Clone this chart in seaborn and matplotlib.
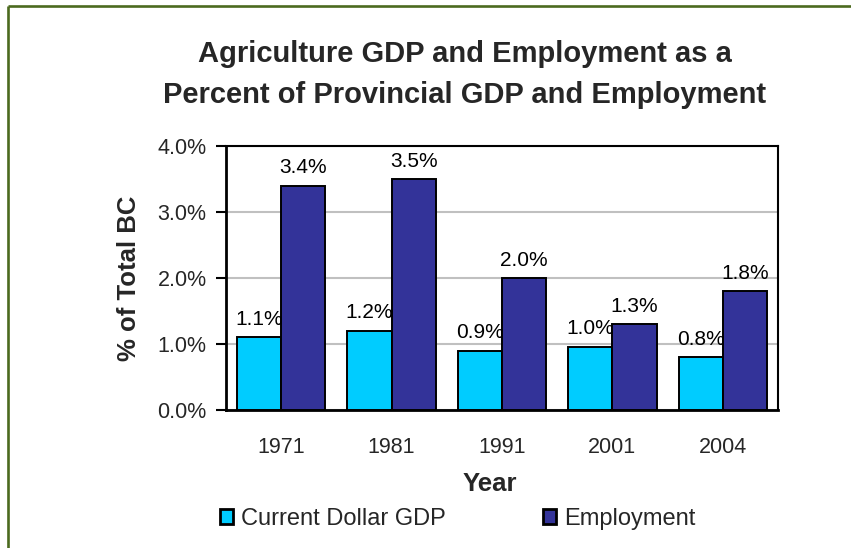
import matplotlib
matplotlib.use("Agg")
import matplotlib.pyplot as plt
from matplotlib.lines import Line2D
import seaborn as sns
import pandas as pd
import numpy as np

# Data (percent of BC total)
years = ["1971", "1981", "1991", "2001", "2004"]
gdp_share = [1.1, 1.2, 0.9, 0.96, 0.8]
employment_share = [3.4, 3.5, 2.0, 1.3, 1.8]
series_names = ["Current Dollar GDP", "Employment"]
y_ticks = [0.0, 1.0, 2.0, 3.0, 4.0]

df = pd.DataFrame({
    "Year": years * 2,
    "Series": [series_names[0]] * len(years) + [series_names[1]] * len(years),
    "Share": gdp_share + employment_share,
})

sns.set_theme(style="white")
plt.rcParams["font.family"] = ["Liberation Sans", "DejaVu Sans"]

W, H = 851, 548
fig = plt.figure(figsize=(W / 100, H / 100), dpi=100)
fig.patch.set_facecolor("white")

ax = fig.add_axes([226 / W, 1 - 410 / H, (778 - 226) / W, (410 - 146) / H])

palette = {series_names[0]: "#00CCFF", series_names[1]: "#333399"}
sns.barplot(data=df, x="Year", y="Share", hue="Series", order=years,
            hue_order=series_names, palette=palette, width=0.8,
            edgecolor="black", linewidth=1.4, saturation=1, ax=ax,
            zorder=3)

# Value labels above each bar
for container in ax.containers:
    ax.bar_label(container, labels=[f"{v:.1f}%" for v in container.datavalues],
                 padding=6, fontsize=15, color="black")

ax.set_ylim(0, 4)
ax.set_xlim(-0.5, len(years) - 0.5)
ax.set_yticks(y_ticks)
ax.set_yticklabels([f"{v:.1f}%" for v in y_ticks], fontsize=15.5)
ax.yaxis.grid(True, color="#c0c0c0", linewidth=1.5, zorder=0)
ax.set_axisbelow(True)

# Category ticks at boundaries, labels at centers
ax.set_xticks(np.arange(len(years)))
ax.set_xticklabels(years, fontsize=15.5)
ax.set_xticks(np.arange(len(years) + 1) - 0.5, minor=True)
ax.tick_params(axis="x", which="major", length=0, pad=19.5)
ax.tick_params(axis="x", which="minor", length=7, width=1.5, color="black",
               direction="out")
ax.tick_params(axis="y", length=7, width=1.5, color="black", direction="out",
               pad=7, left=True)

for side in ["top", "right", "bottom", "left"]:
    ax.spines[side].set_color("black")
    ax.spines[side].set_linewidth(1.5)
ax.spines["left"].set_linewidth(2)
ax.spines["bottom"].set_linewidth(2)

ax.set_xlabel("Year", fontsize=18.5, fontweight="bold", labelpad=10)
ax.xaxis.label.set_x((490 - 226) / (778 - 226))
ax.set_ylabel("% of Total BC", fontsize=18.5, fontweight="bold", labelpad=12)

# Title
fig.text(465 / W, 1 - 74.5 / H,
         "Agriculture GDP and Employment as a\nPercent of Provincial GDP and Employment",
         ha="center", va="center", fontsize=21, fontweight="bold",
         linespacing=1.55)

# Legend below the axes
handles, labels = ax.get_legend_handles_labels()
ax.get_legend().remove()
for h in handles:
    h.set_linewidth(2)
fig.legend(handles, labels, loc="center", bbox_to_anchor=(457.5 / W, 1 - 519 / H),
           ncol=2, frameon=False, fontsize=17, handlelength=0.57,
           handleheight=0.57, handletextpad=0.34, columnspacing=4.1,
           borderpad=0)

# Olive frame around the chart
frame_color = "#4b6a1e"
fig.add_artist(Line2D([7.5 / W, 1.0], [1 - 6 / H, 1 - 6 / H],
                      transform=fig.transFigure, color=frame_color,
                      linewidth=1.9, solid_capstyle="butt"))
fig.add_artist(Line2D([7.5 / W, 7.5 / W], [0.0, 1 - 6 / H],
                      transform=fig.transFigure, color=frame_color,
                      linewidth=1.9, solid_capstyle="butt"))

fig.savefig("out.png", dpi=100, facecolor="white")
